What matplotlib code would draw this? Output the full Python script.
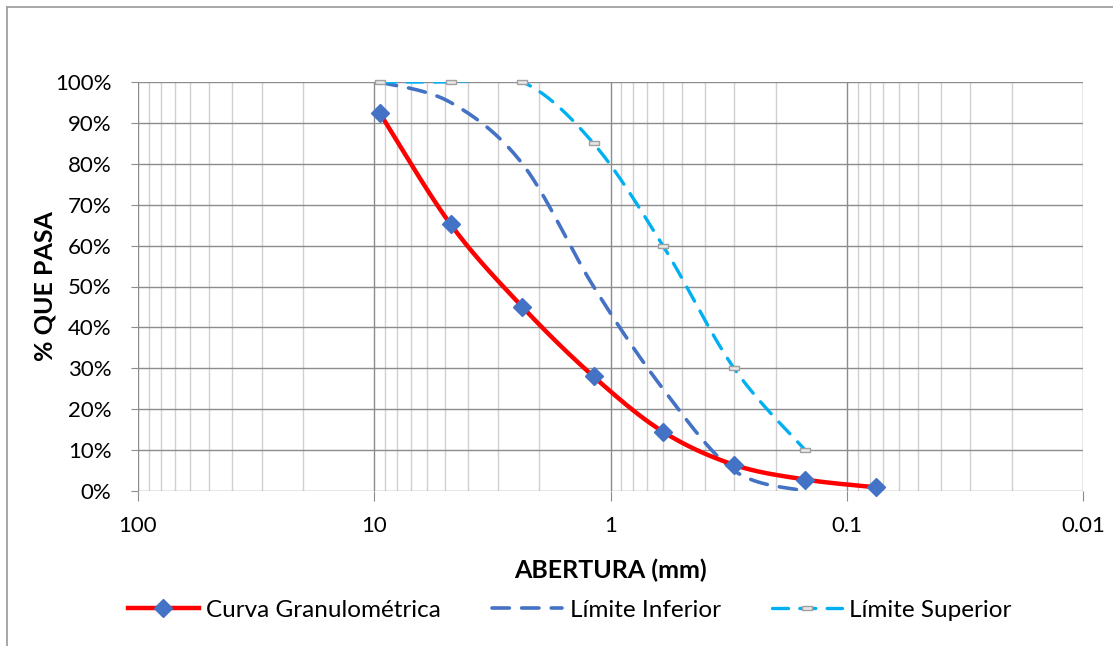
import numpy as np
import matplotlib
matplotlib.use("Agg")
from matplotlib import pyplot as plt
from matplotlib.lines import Line2D
from matplotlib.ticker import FixedLocator, FuncFormatter, LogLocator, NullFormatter

plt.rcParams['font.family'] = ['Lato', 'DejaVu Sans']

# sieve openings (mm) and % passing
aberturas = [9.5, 4.75, 2.36, 1.18, 0.6, 0.3, 0.15, 0.075]
curva = [92.5, 65.2, 45.0, 28.0, 14.5, 6.4, 2.8, 0.9]
lim_inf = [100, 95, 80, 50, 25, 5, 0]
lim_sup = [100, 100, 100, 85, 60, 30, 10]


def smooth(xs, ys, n=40):
    # Excel-like smoothed line: Catmull-Rom through the points in (log x, y)
    u = np.log10(np.asarray(xs, float))
    v = np.asarray(ys, float)
    pu = np.concatenate([[u[0]], u, [u[-1]]])
    pv = np.concatenate([[v[0]], v, [v[-1]]])
    out_u, out_v = [], []
    t = np.linspace(0, 1, n)
    for i in range(1, len(pu) - 2):
        p0u, p1u, p2u, p3u = pu[i - 1:i + 3]
        p0v, p1v, p2v, p3v = pv[i - 1:i + 3]
        c1u, c1v = p1u + (p2u - p0u) / 6, p1v + (p2v - p0v) / 6
        c2u, c2v = p2u - (p3u - p1u) / 6, p2v - (p3v - p1v) / 6
        b0, b1, b2, b3 = (1 - t) ** 3, 3 * t * (1 - t) ** 2, 3 * t ** 2 * (1 - t), t ** 3
        out_u.append(b0 * p1u + b1 * c1u + b2 * c2u + b3 * p2u)
        out_v.append(b0 * p1v + b1 * c1v + b2 * c2v + b3 * p2v)
    return 10 ** np.concatenate(out_u), np.concatenate(out_v)


fig = plt.figure(figsize=(11.13, 6.46), dpi=100)
ax = fig.add_axes([138 / 1113, 1 - 491 / 646, (1083 - 138) / 1113, (491 - 82) / 646])

major = '#8c8c8c'
minor = '#d0d0d0'

# outer chart border
fig.add_artist(Line2D([7 / 1113, 7 / 1113], [0, 1 - 7 / 646], color='#a0a0a0', lw=1.3))
fig.add_artist(Line2D([7 / 1113, 1], [1 - 7 / 646, 1 - 7 / 646], color='#a0a0a0', lw=1.3))

ax.set_xscale('log')
ax.set_xlim(100, 0.01)
ax.set_ylim(0, 100)

ax.xaxis.set_major_locator(FixedLocator([100, 10, 1, 0.1, 0.01]))
ax.xaxis.set_minor_locator(LogLocator(base=10, subs=np.arange(2, 10)))
ax.xaxis.set_minor_formatter(NullFormatter())
ax.xaxis.set_major_formatter(FuncFormatter(lambda v, p: f'{v:g}'))
ax.yaxis.set_major_locator(FixedLocator(np.arange(0, 101, 10)))
ax.yaxis.set_major_formatter(FuncFormatter(lambda v, p: f'{v:.0f}%'))

ax.grid(True, which='major', color=major, lw=1.0)
ax.grid(True, which='minor', axis='x', color=minor, lw=1.0)
ax.set_axisbelow(True)
for s in ax.spines.values():
    s.set_visible(False)
ax.tick_params(axis='x', which='major', length=7, color=major, pad=11, labelsize=16)
ax.tick_params(axis='x', which='minor', length=0)
ax.tick_params(axis='y', length=5, color=major, pad=14, labelsize=16)

dash = (4.8, 3.4)

xs, ys = smooth(aberturas[:len(lim_inf)], lim_inf)
ax.plot(xs, ys, color='#4472C4', lw=2.6, dashes=dash, dash_capstyle='round')

rect = [(-1, -0.4), (1, -0.4), (1, 0.4), (-1, 0.4), (-1, -0.4)]
xs, ys = smooth(aberturas[:len(lim_sup)], lim_sup)
ax.plot(xs, ys, color='#00B0F0', lw=2.4, dashes=dash, dash_capstyle='round')
ax.plot(aberturas[:len(lim_sup)], lim_sup, ls='none', marker=rect, ms=7,
        mfc='#e8e8e8', mec='#a0a0a0', mew=1.0, clip_on=False)

xs, ys = smooth(aberturas, curva)
ax.plot(xs, ys, color='#FF0000', lw=3.2, solid_capstyle='round', zorder=3)
ax.plot(aberturas, curva, ls='none', marker='D', ms=9, color='#4472C4', zorder=4,
        clip_on=False)

ax.set_xlabel('ABERTURA (mm)', fontsize=18, fontweight='bold', labelpad=16)
ax.set_ylabel('% QUE PASA', fontsize=18, fontweight='bold', labelpad=-1)

h_curva = Line2D([], [], color='#FF0000', lw=3.2, marker='D', ms=9, mfc='#4472C4',
                 mec='#4472C4')
h_inf = Line2D([], [], color='#4472C4', lw=2.6, dashes=dash, dash_capstyle='round')
h_sup = Line2D([], [], color='#00B0F0', lw=2.4, dashes=dash, dash_capstyle='round',
               marker=rect, ms=7, mfc='#e8e8e8', mec='#a0a0a0')
fig.legend([h_curva, h_inf, h_sup],
           ['Curva Granulométrica', 'Límite Inferior', 'Límite Superior'],
           loc='center', bbox_to_anchor=(570 / 1113, 1 - 610 / 646), ncol=3,
           frameon=False, fontsize=17.5, handlelength=2.9, handletextpad=0.3,
           columnspacing=2.1)

fig.savefig('out.png', dpi=100)
